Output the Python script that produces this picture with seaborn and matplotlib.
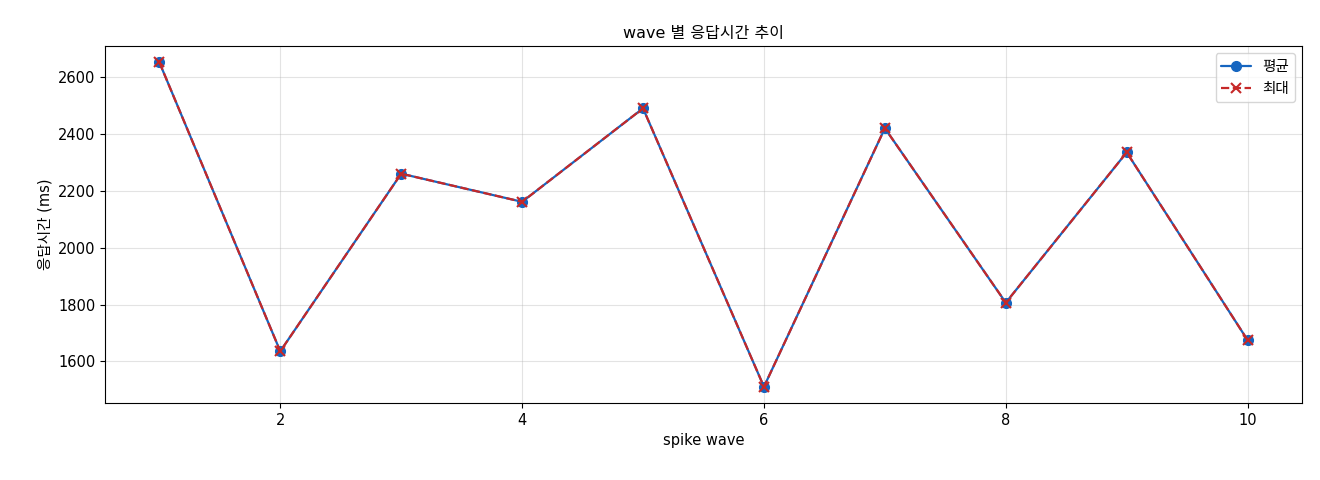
import matplotlib
matplotlib.use("Agg")
import matplotlib.pyplot as plt
import seaborn as sns
import pandas as pd

# wave 별 응답시간 (ms)
waves = [1, 2, 3, 4, 5, 6, 7, 8, 9, 10]
avg_ms = [2653, 1636, 2261, 2162, 2491, 1511, 2421, 1807, 2336, 1675]
max_ms = [2653, 1636, 2261, 2162, 2491, 1511, 2421, 1807, 2336, 1675]

sns.set_style("ticks")
plt.rcParams['font.family'] = ['DejaVu Sans', 'Noto Sans CJK KR']
plt.rcParams['axes.unicode_minus'] = False
plt.rcParams['font.size'] = 10.5
plt.rcParams['text.color'] = 'black'
plt.rcParams['axes.labelcolor'] = 'black'
plt.rcParams['axes.edgecolor'] = 'black'
plt.rcParams['xtick.color'] = 'black'
plt.rcParams['ytick.color'] = 'black'

df = pd.DataFrame({"wave": waves, "avg": avg_ms, "max": max_ms})

fig, ax = plt.subplots(figsize=(13.2, 4.8), dpi=100)
sns.lineplot(data=df, x="wave", y="avg", ax=ax, color="#1565c0", marker="o",
             markersize=7, linewidth=1.6, label="평균",
             markeredgecolor="#1565c0", markeredgewidth=1)
sns.lineplot(data=df, x="wave", y="max", ax=ax, color="#c62828", marker="x",
             markersize=7, linewidth=1.6, linestyle="--", label="최대",
             markeredgecolor="#c62828", markeredgewidth=1.5)

ax.set_title("wave 별 응답시간 추이", fontsize=11.5)
ax.set_xlabel("spike wave", fontsize=10.5)
ax.set_ylabel("응답시간 (ms)", fontsize=10.5)
ax.tick_params(labelsize=10.5)
ax.grid(True, alpha=0.35, color="#b0b0b0")
ax.legend(loc="upper right", fontsize=10.5)

fig.subplots_adjust(left=0.0795, right=0.9864, top=0.904, bottom=0.1604)
fig.savefig("out.png", dpi=100)
